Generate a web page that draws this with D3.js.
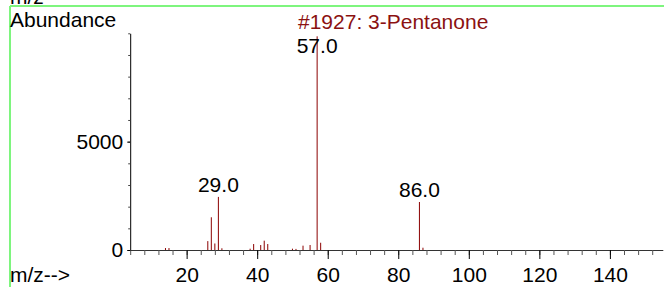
<!DOCTYPE html>
<html><head><meta charset="utf-8">
<script src="https://cdn.jsdelivr.net/npm/d3@7"></script>
<style>
body { margin: 0; background: #fff; }
svg text { font-family: Arial, "Liberation Sans", sans-serif; font-size: 21px; }
</style>
</head>
<body>
<div id="chart"></div>
<script>
// spectrum peaks (m/z, abundance)
const mz = [14, 15, 26, 27, 28, 29, 30, 38, 39, 41, 42, 43, 50, 51, 53, 55, 57, 58, 86, 87];
const abundance = [90, 90, 410, 1510, 300, 2450, 80, 60, 275, 230, 430, 275, 60, 50, 200, 230, 9860, 335, 2215, 105];
const labelled = [29, 57, 86];
const xMajor = [20, 40, 60, 80, 100, 120, 140];
const yMajor = [0, 5000];
const title = "#1927: 3-Pentanone";

const W = 664, H = 287;
const data = mz.map((m, i) => ({ mz: m, ab: abundance[i] }));

const svg = d3.select("#chart").append("svg")
	.attr("width", W).attr("height", H);

const x = d3.scaleLinear().domain([4, 155]).range([130.2, 662.8]);
const y = d3.scaleLinear().domain([0, 10000]).range([250, 33.3]);

// green frame
svg.append("line").attr("x1", 10).attr("x2", W).attr("y1", 6).attr("y2", 6)
	.attr("stroke", "#7ef57e").attr("stroke-width", 2);
svg.append("line").attr("x1", 10).attr("x2", 10).attr("y1", 6).attr("y2", H)
	.attr("stroke", "#7ef57e").attr("stroke-width", 2);

// top label is clipped by the page edge, as in the original
svg.append("text").attr("x", 10).attr("y", 4).text("m/z");
svg.append("text").attr("x", 10).attr("y", 26.5).text("Abundance");
svg.append("text").attr("x", 10).attr("y", 282).text("m/z-->");
svg.append("text").attr("x", 298).attr("y", 29.3).attr("fill", "#8b1111").text(title);

// x axis: minor ticks every 4, labelled every 20
const xMinor = svg.append("g").attr("transform", `translate(0,${y(0)})`)
	.call(d3.axisBottom(x).tickValues(d3.range(4, 156, 4)).tickSize(5).tickSizeOuter(0).tickFormat(""));
xMinor.select(".domain").attr("stroke", "#333");
xMinor.selectAll(".tick line").attr("stroke", "#555");

const xMaj = svg.append("g").attr("transform", `translate(0,${y(0)})`)
	.call(d3.axisBottom(x).tickValues(xMajor).tickSize(9).tickPadding(8));
xMaj.select(".domain").remove();
xMaj.selectAll(".tick line").attr("stroke", "#000");
xMaj.selectAll(".tick text").attr("fill", "#000").style("font-size", "21px");

// y axis
const yMinor = svg.append("g").attr("transform", `translate(${x(4)},0)`)
	.call(d3.axisLeft(y).tickValues(d3.range(0, 10001, 1000)).tickSize(2).tickSizeOuter(0).tickFormat(""));
yMinor.select(".domain").attr("stroke", "#000");
yMinor.selectAll(".tick line").attr("stroke", "#444");

const yMaj = svg.append("g").attr("transform", `translate(${x(4)},0)`)
	.call(d3.axisLeft(y).tickValues(yMajor).tickSize(3).tickPadding(4).tickFormat(d3.format("d")));
yMaj.select(".domain").remove();
yMaj.selectAll(".tick text").attr("fill", "#000").style("font-size", "21px");

// peaks
svg.append("g").selectAll("line").data(data).join("line")
	.attr("x1", d => x(d.mz)).attr("x2", d => x(d.mz))
	.attr("y1", y(0)).attr("y2", d => y(d.ab))
	.attr("stroke", "#8b0000").attr("stroke-width", 1);

// peak labels
svg.append("g").selectAll("text").data(data.filter(d => labelled.includes(d.mz))).join("text")
	.attr("x", d => x(d.mz))
	.attr("y", d => Math.max(y(d.ab) - 5, 53.3))
	.attr("text-anchor", "middle")
	.text(d => d.mz.toFixed(1));
</script>
</body></html>
